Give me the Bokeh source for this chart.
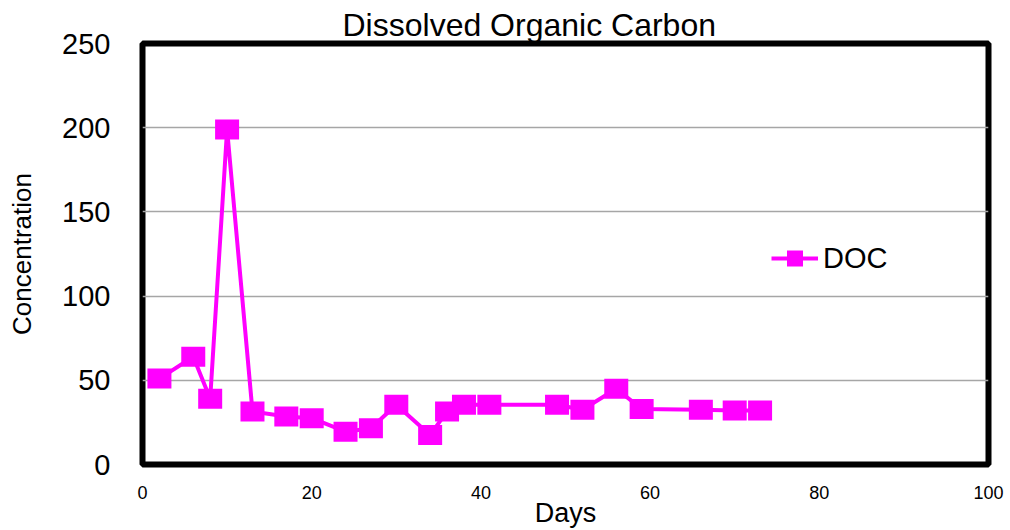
from bokeh.plotting import figure
from bokeh.models import Range1d, FixedTicker, Legend, LegendItem
from bokeh.embed import file_html
from bokeh.resources import INLINE

# Sampling days and measured dissolved organic carbon
days = [2, 6, 8, 10, 13, 17, 20, 24, 27, 30, 34, 36, 38, 41, 49, 52, 56, 59, 66, 70, 73]
doc = [51, 64, 39, 199, 31.5, 28.5, 27.5, 19.5, 21.5, 35.5, 17.5, 31.5, 35.5, 35.5,
       35.5, 32.5, 45, 33, 32.5, 32, 32]

x_ticks = [0, 20, 40, 60, 80, 100]
y_ticks = [0, 50, 100, 150, 200, 250]

FONT = "Liberation Sans"
MAGENTA = "#ff00ff"

p = figure(
    width=1010, height=530,
    x_range=Range1d(0, 100), y_range=Range1d(0, 250),
    output_backend="svg", toolbar_location=None,
    min_border_left=142, min_border_right=22,
    min_border_top=43, min_border_bottom=65,
    background_fill_color="white", border_fill_color="white",
)

# Title
p.title.text = "Dissolved Organic Carbon"
p.title.text_font = FONT
p.title.text_font_size = "32px"
p.title.text_font_style = "normal"
p.title.text_color = "black"
p.title.align = "left"
p.title.offset = 200
p.title.standoff = 2

# Heavy black frame around the data area
p.outline_line_color = "black"
p.outline_line_width = 6

# Grid: horizontal lines only
p.xgrid.visible = False
p.ygrid.grid_line_color = "#a6a6a6"
p.ygrid.grid_line_width = 1.5

# Axes
p.xaxis.ticker = FixedTicker(ticks=x_ticks)
p.yaxis.ticker = FixedTicker(ticks=y_ticks)
for ax in (p.xaxis, p.yaxis):
    ax.axis_line_color = None
    ax.major_tick_line_color = None
    ax.minor_tick_line_color = None
    ax.major_tick_in = 0
    ax.major_tick_out = 0
    ax.major_label_text_font = FONT
    ax.major_label_text_color = "black"
    ax.axis_label_text_font = FONT
    ax.axis_label_text_font_style = "normal"
    ax.axis_label_text_color = "black"

p.xaxis.major_label_text_font_size = "18px"
p.xaxis.major_label_standoff = 21
p.xaxis.axis_label = "Days"
p.xaxis.axis_label_text_font_size = "27px"
p.xaxis.axis_label_standoff = -4

p.yaxis.major_label_text_font_size = "29px"
p.yaxis.major_label_standoff = 32
p.yaxis.axis_label = "Concentration"
p.yaxis.axis_label_text_font_size = "26px"
p.yaxis.axis_label_standoff = 22

# Series: connecting line plus square markers
line_r = p.line(days, doc, line_color=MAGENTA, line_width=4)
p.rect(x=days, y=doc, width=24, height=20,
       width_units="screen", height_units="screen",
       fill_color=MAGENTA, line_color=None)

# Marker used only for the legend entry
key_r = p.scatter(days, doc, marker="square", size=16,
                  fill_color=MAGENTA, line_color=None, visible=False)

legend = Legend(
    items=[LegendItem(label="DOC", renderers=[line_r, key_r])],
    location=(629, 186),
    glyph_width=47, glyph_height=40, label_height=40,
    label_standoff=5, padding=0, margin=0, spacing=0,
    label_text_font=FONT, label_text_font_size="29px", label_text_color="black",
    border_line_color=None, background_fill_alpha=0,
)
p.add_layout(legend)

open("out.html", "w").write(file_html(p, INLINE))
